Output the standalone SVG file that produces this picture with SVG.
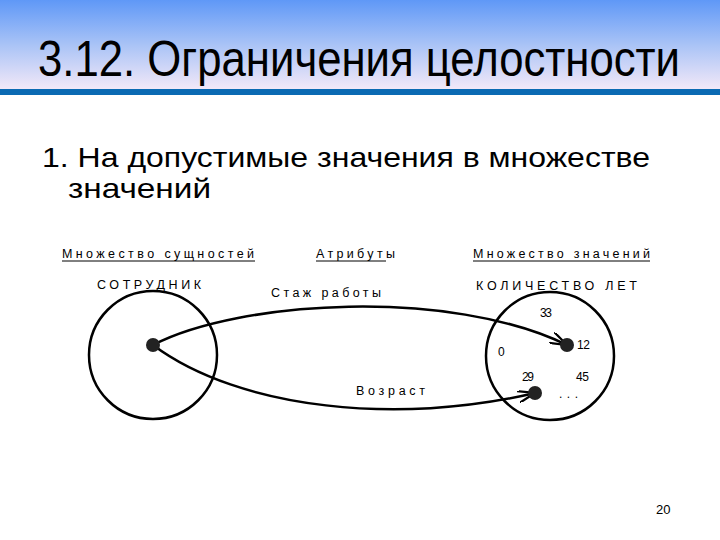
<svg xmlns="http://www.w3.org/2000/svg" width="720" height="540" viewBox="0 0 720 540">
<defs>
<linearGradient id="hdr" x1="0" y1="0" x2="0" y2="1">
<stop offset="0" stop-color="#5f98f7"/>
<stop offset="0.5" stop-color="#a9c3f6"/>
<stop offset="1" stop-color="#f2e8f8"/>
</linearGradient>
<marker id="arr" viewBox="0 0 18 12" refX="17" refY="6" markerWidth="18" markerHeight="12" markerUnits="userSpaceOnUse" orient="auto">
<path d="M0,0 L17,6 L0,12" fill="none" stroke="#000" stroke-width="2.2"/>
</marker>
<style>
.lbl{font-family:"Liberation Sans",Arial,sans-serif;font-size:12.5px;fill:#000}
.num{font-family:"Liberation Sans",Arial,sans-serif;font-size:12px;fill:#000}
.ring{fill:none;stroke:#000;stroke-width:2.5}
.edge{fill:none;stroke:#000;stroke-width:2.5}
.dot{fill:#222}
.ul{stroke:#000;stroke-width:1}
</style>
</defs>
<rect x="0" y="0" width="720" height="540" fill="#fff"/>
<g id="header">
<rect x="0" y="0" width="720" height="89" fill="url(#hdr)"/>
<rect x="0" y="89" width="720" height="6" fill="#0b6ab3"/>
<text x="38" y="76" font-family="'Liberation Sans',Arial,sans-serif" font-size="50" textLength="642" lengthAdjust="spacingAndGlyphs">3.12. Ограничения целостности</text>
</g>
<g id="body">
<text x="42" y="167" font-family="'Liberation Sans',Arial,sans-serif" font-size="28" textLength="608" lengthAdjust="spacingAndGlyphs">1. На допустимые значения в множестве</text>
<text x="68" y="198" font-family="'Liberation Sans',Arial,sans-serif" font-size="28" textLength="143" lengthAdjust="spacingAndGlyphs">значений</text>
</g>
<g id="connectors">
<path class="edge" d="M153,345 C240,300 450,288 567,345" marker-end="url(#arr)"/>
<path class="edge" d="M153,345 C240,410 400,425 535,393" marker-end="url(#arr)"/>
</g>
<g id="entity-set">
<text class="lbl" x="62" y="258" textLength="192" lengthAdjust="spacing">Множество сущностей</text>
<line class="ul" x1="62" y1="261" x2="255" y2="261"/>
<text class="lbl" x="97" y="289" textLength="104" lengthAdjust="spacing">СОТРУДНИК</text>
<circle class="ring" cx="153" cy="355" r="64"/>
<circle class="dot" cx="153" cy="345" r="7"/>
</g>
<g id="attributes">
<text class="lbl" x="316" y="258" textLength="79" lengthAdjust="spacing">Атрибуты</text>
<line class="ul" x1="316" y1="261" x2="386" y2="261"/>
<text class="lbl" x="271" y="297" textLength="110" lengthAdjust="spacing">Стаж работы</text>
<text class="lbl" x="356" y="395" textLength="69" lengthAdjust="spacing">Возраст</text>
</g>
<g id="value-set">
<text class="lbl" x="473" y="258" textLength="177" lengthAdjust="spacing">Множество значений</text>
<line class="ul" x1="473" y1="261" x2="650" y2="261"/>
<text class="lbl" x="476" y="290" textLength="161" lengthAdjust="spacing">КОЛИЧЕСТВО ЛЕТ</text>
<circle class="ring" cx="550" cy="356" r="64"/>
<circle class="dot" cx="567" cy="345" r="7"/>
<circle class="dot" cx="535" cy="393" r="7"/>
<text class="num" x="540" y="317" textLength="12" lengthAdjust="spacing">33</text>
<text class="num" x="577" y="349" textLength="13" lengthAdjust="spacing">12</text>
<text class="num" x="498" y="356">0</text>
<text class="num" x="522" y="381" textLength="12" lengthAdjust="spacing">29</text>
<text class="num" x="576" y="381" textLength="13" lengthAdjust="spacing">45</text>
<text class="num" x="559" y="398" textLength="19" lengthAdjust="spacing">...</text>
</g>
<text x="656" y="514" font-family="'Liberation Sans',Arial,sans-serif" font-size="13">20</text>
</svg>
